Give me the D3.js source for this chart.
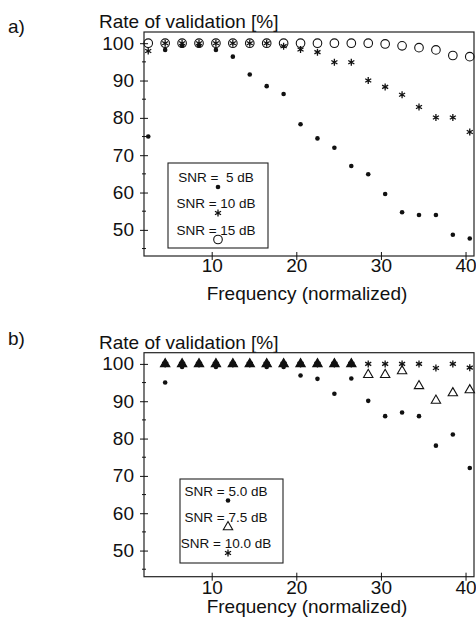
<!DOCTYPE html>
<html>
<head>
<meta charset="utf-8">
<script src="https://cdn.jsdelivr.net/npm/d3@7"></script>
<style>
  html, body { margin: 0; padding: 0; background: #fff; }
  svg { display: block; }
  text { font-family: "Liberation Sans", Arial, Helvetica, sans-serif; fill: #111; }
</style>
</head>
<body>
<svg id="chart" width="476" height="628"></svg>
<script>
// ---------- data ----------
// Panel a: frequencies (normalized) and validation rates [%]
const freqA = [2.5, 4.5, 6.5, 8.5, 10.5, 12.5, 14.5, 16.5, 18.5, 20.5,
               22.5, 24.5, 26.5, 28.5, 30.5, 32.5, 34.5, 36.5, 38.5, 40.5];
const snr5A  = [75.0, 98.2, 99.3, 99.4, 98.2, 96.4, 91.6, 88.5, 86.4, 78.3,
                74.5, 72.0, 67.1, 64.9, 59.6, 54.7, 54.0, 54.0, 48.7, 47.7];
const snr10A = [97.9, 100, 100, 100, 100, 100, 100, 100, 99.2, 98.3,
                97.6, 94.9, 94.9, 90.0, 88.3, 86.2, 82.9, 80.1, 80.1, 76.2];
const snr15A = [100, 100, 100, 100, 100, 100, 100, 100, 100, 100,
                100, 100, 100, 100, 99.8, 99.3, 98.8, 98.2, 96.7, 96.4];

// Panel b
const freqB = [4.5, 6.5, 8.5, 10.5, 12.5, 14.5, 16.5, 18.5, 20.5, 22.5,
               24.5, 26.5, 28.5, 30.5, 32.5, 34.5, 36.5, 38.5, 40.5];
const snr50B  = [95.0, 99.2, 100, 99.2, 100, 100, 99.2, 99.2, 96.9, 96.0,
                 92.0, 96.1, 90.1, 86.0, 87.0, 86.0, 78.1, 81.1, 72.1];
const snr75B  = [100, 100, 100, 100, 100, 100, 100, 100, 100, 100,
                 100, 100, 97.1, 97.1, 98.1, 94.1, 90.2, 92.2, 93.0];
const snr100B = [100, 100, 100, 100, 100, 100, 100, 100, 100, 100,
                 100, 100, 100, 100, 100, 100, 98.9, 100, 99.0];

const xTicks = [10, 20, 30, 40];
const yTicks = [50, 60, 70, 80, 90, 100];
const yMinorTicks = [45, 55, 65, 75, 85, 95];
const xDomain = [2, 41];
const yDomain = [43, 103];

const legendA = ["SNR =  5 dB", "SNR = 10 dB", "SNR = 15 dB"];
const legendB = ["SNR = 5.0 dB", "SNR = 7.5 dB", "SNR = 10.0 dB"];

const yTitle = "Rate of validation [%]";
const xTitle = "Frequency (normalized)";

// ---------- drawing ----------
const svg = d3.select("#chart");
const FONT = 19;

const left = 144, right = 474;
const x = d3.scaleLinear().domain(xDomain).range([left, right]);

function drawMarker(g, type, cx, cy, fill) {
  if (type === "dot") {
    g.append("circle").attr("cx", cx).attr("cy", cy).attr("r", 2.3).attr("fill", "#111");
  } else if (type === "circle") {
    g.append("circle").attr("cx", cx).attr("cy", cy).attr("r", 4.3)
      .attr("fill", "none").attr("stroke", "#111").attr("stroke-width", 1.1);
  } else if (type === "star") {
    g.append("path").attr("d", d3.symbol(d3.symbolAsterisk, 34)())
      .attr("transform", `translate(${cx},${cy})`)
      .attr("fill", "none").attr("stroke", "#111").attr("stroke-width", 1.3);
  } else if (type === "tri") {
    g.append("path").attr("d", d3.symbol(d3.symbolTriangle, 38)())
      .attr("transform", `translate(${cx},${cy})`)
      .attr("fill", fill || "#fff").attr("stroke", "#111").attr("stroke-width", 1.1);
  }
}

function panel(cfg) {
  const top = cfg.top, bottom = cfg.top + 224;
  const y = d3.scaleLinear().domain(yDomain).range([bottom, top]);
  const g = svg.append("g");

  // panel label and y-title
  g.append("text").attr("x", 8).attr("y", cfg.labelY).attr("font-size", FONT).text(cfg.label);
  g.append("text").attr("x", 99).attr("y", top - 4).attr("font-size", FONT).text(yTitle);

  // frame
  g.append("rect").attr("x", left).attr("y", top).attr("width", right - left).attr("height", bottom - top)
    .attr("fill", "none").attr("stroke", "#222").attr("stroke-width", 1.2);

  // y axis ticks
  const yAx = g.append("g").attr("transform", `translate(${left},0)`)
    .call(d3.axisLeft(y).tickValues(yTicks).tickSize(4).tickFormat(d3.format("d")));
  yAx.select(".domain").remove();
  yAx.selectAll(".tick line").attr("x1", -4).attr("x2", 4).attr("stroke", "#111");
  yAx.selectAll(".tick text").attr("x", -10).attr("font-size", FONT)
    .attr("font-family", "Liberation Sans, Arial, sans-serif").attr("fill", "#111");
  yMinorTicks.forEach(v => {
    g.append("line").attr("x1", left - 2).attr("x2", left + 2)
      .attr("y1", y(v)).attr("y2", y(v)).attr("stroke", "#111");
  });

  // x axis ticks
  const xAx = g.append("g").attr("transform", `translate(0,${bottom})`)
    .call(d3.axisBottom(x).tickValues(xTicks).tickSize(4).tickFormat(d3.format("d")));
  xAx.select(".domain").remove();
  xAx.selectAll(".tick line").attr("y1", -4).attr("y2", 4).attr("stroke", "#111");
  xAx.selectAll(".tick text").attr("y", cfg.xTickOff).attr("dy", 0).attr("font-size", FONT)
    .attr("font-family", "Liberation Sans, Arial, sans-serif").attr("fill", "#111");

  g.append("text").attr("x", (left + right) / 2 - 2).attr("y", bottom + cfg.xTitleOff)
    .attr("text-anchor", "middle").attr("font-size", FONT).text(xTitle);

  // data
  const marks = g.append("g");
  cfg.series.forEach(s => {
    s.values.forEach((v, i) => {
      let fill = null;
      if (s.fillWhen) fill = s.fillWhen(i) ? "#111" : "#fff";
      drawMarker(marks, s.type, x(cfg.freq[i]), y(v), fill);
    });
  });

  // legend
  const lg = g.append("g");
  const L = cfg.legend;
  lg.append("rect").attr("x", L.x).attr("y", L.y).attr("width", L.w).attr("height", L.h)
    .attr("fill", "#fff").attr("stroke", "#222").attr("stroke-width", 1.1);
  cfg.series.slice().sort((a, b) => a.order - b.order).forEach((s, k) => {
    const by = L.baselines[k];
    lg.append("text").attr("x", L.cx - 1).attr("y", by).attr("text-anchor", "middle")
      .attr("font-size", 13.5).style("white-space", "pre").text(s.label);
    drawMarker(lg, s.type, L.cx + 1, by + 5, s.type === "tri" ? "#fff" : null);
  });
}

panel({
  top: 32, label: "a)", labelY: 33, xTickOff: 16, xTitleOff: 44,
  freq: freqA,
  series: [
    { type: "circle", values: snr15A, label: legendA[2], order: 2 },
    { type: "star", values: snr10A, label: legendA[1], order: 1 },
    { type: "dot", values: snr5A, label: legendA[0], order: 0 }
  ],
  legend: { x: 168, y: 163, w: 100, h: 85, cx: 217, baselines: [182, 208, 234.5] }
});

panel({
  top: 352.7, label: "b)", labelY: 345, xTickOff: 17, xTitleOff: 36,
  freq: freqB,
  series: [
    { type: "tri", values: snr75B, label: legendB[1], order: 1,
      fillWhen: i => snr100B[i] === snr75B[i] },
    { type: "star", values: snr100B, label: legendB[2], order: 2 },
    { type: "dot", values: snr50B, label: legendB[0], order: 0 }
  ],
  legend: { x: 180, y: 479, w: 103, h: 84, cx: 227, baselines: [495.5, 522, 548] }
});
</script>
</body>
</html>
